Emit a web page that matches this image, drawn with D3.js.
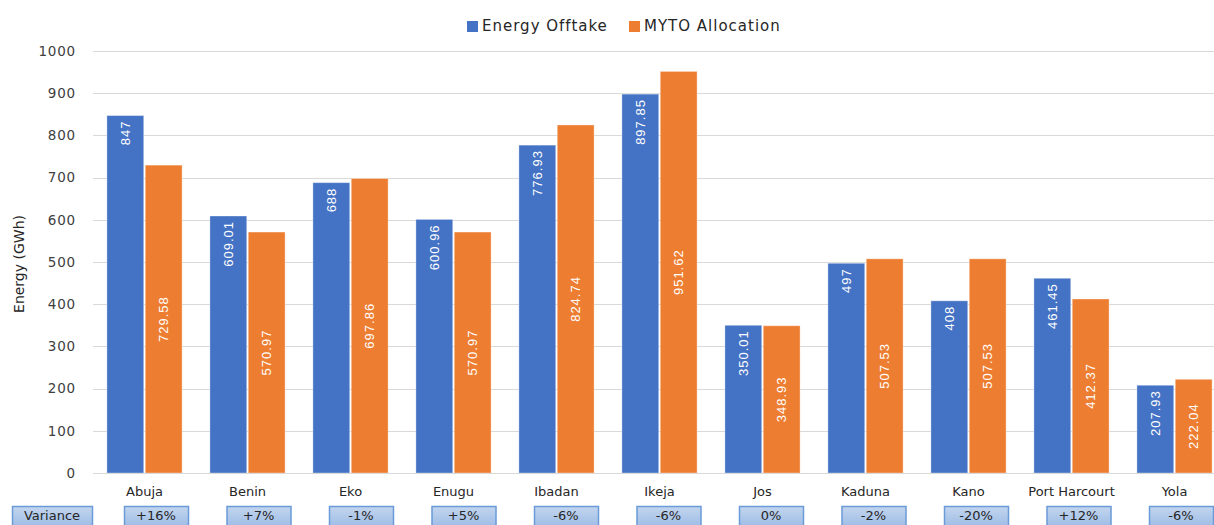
<!DOCTYPE html>
<html>
<head>
<meta charset="utf-8">
<script src="https://cdn.jsdelivr.net/npm/d3@7"></script>
<style>
  html, body { margin: 0; padding: 0; background: #fff; }
  svg { display: block; }
</style>
</head>
<body>
<svg id="chart" width="1214" height="525"></svg>
<script>
// Distribution companies
const categories = ["Abuja", "Benin", "Eko", "Enugu", "Ibadan", "Ikeja", "Jos", "Kaduna", "Kano", "Port Harcourt", "Yola"];
// Energy values in GWh
const energyOfftake = [847, 609.01, 688, 600.96, 776.93, 897.85, 350.01, 497, 408, 461.45, 207.93];
const mytoAllocation = [729.58, 570.97, 697.86, 570.97, 824.74, 951.62, 348.93, 507.53, 507.53, 412.37, 222.04];
// Variance row shown beneath the axis
const variance = ["+16%", "+7%", "-1%", "+5%", "-6%", "-6%", "0%", "-2%", "-20%", "+12%", "-6%"];
const seriesNames = ["Energy Offtake", "MYTO Allocation"];
const yTicks = [0, 100, 200, 300, 400, 500, 600, 700, 800, 900, 1000];

const colors = { "Energy Offtake": "#4472c4", "MYTO Allocation": "#ed7d31" };
const font = "'DejaVu Sans', 'Noto Sans', sans-serif";
const labelFont = "'Liberation Sans Narrow', 'Liberation Sans', sans-serif";

const svg = d3.select("#chart");
const plotLeft = 93, plotRight = 1226, plotTop = 51, plotBottom = 473;

const x0 = d3.scaleBand().domain(categories).range([plotLeft, plotRight])
  .paddingInner(0.27).paddingOuter(0.135);
const x1 = d3.scaleBand().domain(seriesNames).range([0, x0.bandwidth()]).paddingInner(0.04);
const y = d3.scaleLinear().domain([0, 1000]).range([plotBottom, plotTop]);

// Gridlines
svg.append("g").selectAll("line").data(yTicks).join("line")
  .attr("x1", plotLeft).attr("x2", 1214)
  .attr("y1", d => Math.round(y(d)) + 0.5).attr("y2", d => Math.round(y(d)) + 0.5)
  .attr("stroke", "#d9d9d9").attr("stroke-width", 1);

// Y axis labels
svg.append("g").selectAll("text").data(yTicks).join("text")
  .attr("x", 76).attr("y", d => y(d)).attr("dy", "0.35em")
  .attr("text-anchor", "end").attr("font-family", font).attr("font-size", 13.5)
  .attr("letter-spacing", "0.8px")
  .attr("fill", "#404040").text(d => d);

// Y axis title
svg.append("text")
  .attr("transform", "translate(24,264) rotate(-90)")
  .attr("text-anchor", "middle").attr("font-family", font).attr("font-size", 14)
  .attr("fill", "#262626").text("Energy (GWh)");

// Bars
const rows = categories.map((c, i) => ({
  cat: c,
  vals: [
    { s: "Energy Offtake", v: energyOfftake[i] },
    { s: "MYTO Allocation", v: mytoAllocation[i] }
  ]
}));

const groups = svg.append("g").selectAll("g").data(rows).join("g")
  .attr("transform", d => `translate(${x0(d.cat)},0)`);

groups.selectAll("rect").data(d => d.vals).join("rect")
  .attr("x", d => x1(d.s)).attr("width", x1.bandwidth())
  .attr("y", d => y(d.v)).attr("height", d => y(0) - y(d.v))
  .attr("fill", d => colors[d.s])
  .attr("stroke", "#ffffff").attr("stroke-opacity", 0.35).attr("stroke-width", 1);

// Value labels: offtake near the top inside, allocation centered
groups.selectAll("text.val").data(d => d.vals).join("text")
  .attr("class", "val")
  .attr("transform", d => {
    const cx = x1(d.s) + x1.bandwidth() / 2;
    const cy = d.s === "Energy Offtake" ? y(d.v) + 5 : (y(d.v) + y(0)) / 2;
    return `translate(${cx},${cy}) rotate(-90)`;
  })
  .attr("text-anchor", d => d.s === "Energy Offtake" ? "end" : "middle")
  .attr("dy", "0.35em")
  .attr("font-family", labelFont).attr("font-size", 13)
  .attr("letter-spacing", "1px")
  .attr("fill", "#ffffff").text(d => d.v);

// Baseline
svg.append("line")
  .attr("x1", plotLeft).attr("x2", 1214)
  .attr("y1", Math.round(y(0)) + 0.5).attr("y2", Math.round(y(0)) + 0.5)
  .attr("stroke", "#d9d9d9");

// Category labels
svg.append("g").selectAll("text").data(categories).join("text")
  .attr("x", d => x0(d) + x0.bandwidth() / 2).attr("y", 496)
  .attr("text-anchor", "middle").attr("font-family", font).attr("font-size", 13)
  .attr("fill", "#262626").text(d => d);

// Variance table
const defs = svg.append("defs");
const grad = defs.append("linearGradient").attr("id", "cellFill")
  .attr("x1", 0).attr("y1", 0).attr("x2", 0).attr("y2", 1);
grad.append("stop").attr("offset", "0%").attr("stop-color", "#c3d5ee");
grad.append("stop").attr("offset", "100%").attr("stop-color", "#9ebde6");

const xt = d3.scalePoint().domain(categories).range([156, 1181]);
const cellW = 64, cellH = 20, cellTop = 506;

function cell(cx, w, txt) {
  const g = svg.append("g");
  g.append("rect").attr("x", cx - w / 2 + 0.5).attr("y", cellTop + 0.5)
    .attr("width", w).attr("height", cellH)
    .attr("fill", "url(#cellFill)").attr("stroke", "#6a9bd8").attr("stroke-width", 1.5);
  g.append("text").attr("x", cx).attr("y", cellTop + 14)
    .attr("text-anchor", "middle").attr("font-family", font).attr("font-size", 13)
    .attr("fill", "#262626").text(txt);
}
cell(52, 80, "Variance");
categories.forEach((c, i) => cell(xt(c), cellW, variance[i]));

// Legend
const legend = svg.append("g");
const legendItems = [
  { s: "Energy Offtake", x: 467 },
  { s: "MYTO Allocation", x: 629 }
];
legendItems.forEach(it => {
  legend.append("rect").attr("x", it.x).attr("y", 21).attr("width", 11).attr("height", 11)
    .attr("fill", colors[it.s]);
  legend.append("text").attr("x", it.x + 15).attr("y", 31)
    .attr("font-family", font).attr("font-size", 15).attr("letter-spacing", "1px")
    .attr("fill", "#262626").text(it.s);
});
</script>
</body>
</html>
